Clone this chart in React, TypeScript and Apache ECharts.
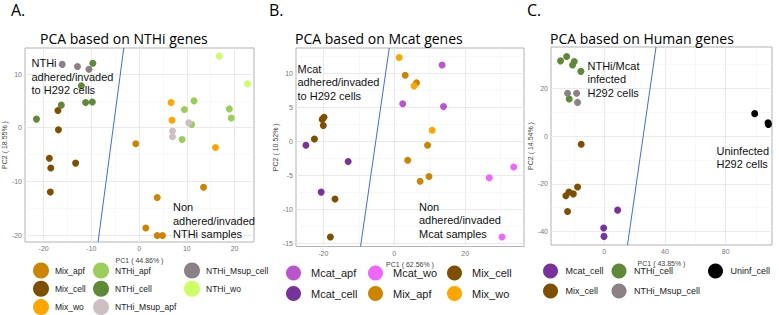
import React, { useEffect, useRef } from "react";
import * as echarts from "echarts";

// ---------- Data ----------
// Panel A: PCA based on NTHi genes
const A_Mix_apf = [[-0.7, -3.0], [3.8, -13.0], [1.4, -18.7], [3.8, -20.1], [4.9, -20.1], [13.5, -11.1]];
const A_Mix_cell = [[-17.0, 3.2], [-16.9, -0.4], [-18.8, -5.7], [-18.5, -7.5], [-18.6, -12.0], [-13.3, -6.6]];
const A_Mix_wo = [[6.7, 4.7], [6.9, 1.4], [16.0, -3.7]];
const A_NTHi_apf = [[11.5, 5.0], [9.5, 3.4], [11.0, 0.6], [9.0, -2.2], [18.9, 3.5], [19.3, 1.8]];
const A_NTHi_cell = [[-9.7, 12.0], [-12.1, 7.8], [-16.3, 4.2], [-11.2, 4.7], [-9.8, 4.8], [-21.5, 1.6]];
const A_NTHi_Msup_apf = [[7.0, -0.6], [7.0, -1.7], [10.4, 0.9]];
const A_NTHi_Msup_cell = [[-16.1, 11.8], [-12.9, 11.4], [-10.5, 10.9]];
const A_NTHi_wo = [[16.8, 13.3], [22.7, 8.2]];
const A_split = [[-3.2, 14.9], [-8.6, -21.3]];

// Panel B: PCA based on Mcat genes
const B_Mcat_apf = [[13.5, 11.2], [2.4, 5.5], [13.9, 5.1]];
const B_Mcat_cell = [[-24.9, -0.6], [-13.0, -3.0], [-20.6, -7.5]];
const B_Mcat_wo = [[26.8, -5.4], [33.7, -3.8], [30.4, -14.1]];
const B_Mix_apf = [[3.1, 9.7], [6.3, 8.6], [9.4, -0.6], [3.8, -2.8], [7.3, -5.9], [9.8, -5.2]];
const B_Mix_cell = [[-19.8, 3.5], [-20.3, 3.2], [-20.0, 2.3], [-22.5, 0.3], [-16.7, -8.5], [-18.0, -14.1]];
const B_Mix_wo = [[1.4, 12.3], [5.6, 8.1], [10.7, 1.6]];
const B_split = [[-1.4, 13.7], [-9.5, -15.5]];

// Panel C: PCA based on Human genes
const C_Mcat_cell = [[8.8, -31.0], [-0.4, -38.5], [-0.2, -42.0]];
const C_Mix_cell = [[-15.2, -3.4], [-17.6, -21.3], [-23.3, -23.4], [-20.4, -24.2], [-25.3, -25.0], [-24.2, -31.6]];
const C_NTHi_cell = [[-28.8, 31.5], [-24.8, 33.3], [-19.8, 31.2], [-20.9, 29.8], [-15.4, 27.1], [-23.1, 15.5]];
const C_NTHi_Msup_cell = [[-24.2, 17.9], [-18.2, 17.9], [-17.6, 14.1]];
const C_Uninf_cell = [[99.1, 9.4], [107.9, 5.6], [108.1, 4.9]];
const C_split = [[34.1, 37.3], [15.3, -45.6]];

// Tick labels / grid breaks
const A_xMajor = [-20, -10, 0, 10, 20];
const A_xMinor = [-15, -5, 5, 15];
const A_yMajor = [-20, -10, 0, 10];
const A_yMinor = [-15, -5, 5];
const B_xMajor = [-20, 0, 20];
const B_xMinor = [-10, 10, 30];
const B_yMajor = [-15, -10, -5, 0, 5, 10];
const B_yMinor = [-12.5, -7.5, -2.5, 2.5, 7.5, 12.5];
const C_xMajor = [0, 40, 80];
const C_xMinor = [-20, 20, 60, 100];
const C_yMajor = [-40, -20, 0, 20];
const C_yMinor = [-30, -10, 10, 30];

const axisNames = {
  A: ["PC1 ( 44.86% )", "PC2 ( 18.55% )"],
  B: ["PC1 ( 62.56% )", "PC2 ( 10.52% )"],
  C: ["PC1 ( 43.85% )", "PC2 ( 14.54% )"],
};

const colors: Record<string, string> = {
  Mix_apf: "#cc8500",
  Mix_cell: "#7f4f00",
  Mix_wo: "#ffa500",
  NTHi_apf: "#9acd5a",
  NTHi_cell: "#5e8a37",
  NTHi_Msup_apf: "#ccc0c3",
  NTHi_Msup_cell: "#8b8083",
  NTHi_wo: "#ccff66",
  Mcat_apf: "#bb55cc",
  Mcat_cell: "#773399",
  Mcat_wo: "#ee66ff",
  Uninf_cell: "#000000",
};

const SANS = "'Liberation Sans', Arial, sans-serif";
const TITLE_FONT = "'Open Sans', 'Noto Sans', sans-serif";

export default function App() {
  const ref = useRef<HTMLDivElement>(null);
  useEffect(() => {
    if (!ref.current) return;
    const chart = echarts.init(ref.current, null, { renderer: "svg" });

    const grids = [
      { left: 21, top: 48, width: 233, height: 194 },
      { left: 296, top: 48, width: 228, height: 198.5 },
      { left: 551, top: 47, width: 221, height: 198 },
    ].map((g) => ({ ...g, show: true, borderColor: "#b3b3b3", borderWidth: 1, backgroundColor: "#fff" }));

    const mkAxis = (i: number, min: number, max: number, ticks: number[], name: string, gap: number) => ({
      gridIndex: i,
      type: "value",
      min,
      max,
      name,
      nameLocation: "middle",
      nameGap: gap,
      nameTextStyle: { fontSize: 7, color: "#444", fontFamily: SANS },
      axisLine: { show: false },
      splitLine: { show: false },
      axisTick: { show: true, customValues: ticks, length: 2, lineStyle: { color: "#b3b3b3" } },
      axisLabel: { customValues: ticks, fontSize: 7, color: "#777", margin: 3, fontFamily: SANS },
    });

    const xAxis = [
      mkAxis(0, -23.9, 24.07, A_xMajor, axisNames.A[0], 11),
      mkAxis(1, -27.7, 36.6, B_xMajor, axisNames.B[0], 6.5),
      mkAxis(2, -35.1, 110.5, C_xMajor, axisNames.C[0], 9),
    ];
    const yAxis = [
      mkAxis(0, -21.3, 14.85, A_yMajor, axisNames.A[1], 10.5),
      mkAxis(1, -15.5, 13.7, B_yMajor, axisNames.B[1], 15),
      mkAxis(2, -45.6, 37.3, C_yMajor, axisNames.C[1], 13.5),
    ];

    const gridSeries = (i: number, xMaj: number[], xMin: number[], yMaj: number[], yMin: number[]) => ({
      type: "scatter",
      name: "grid" + i,
      xAxisIndex: i,
      yAxisIndex: i,
      data: [],
      silent: true,
      z: 1,
      markLine: {
        silent: true,
        z: 1,
        symbol: ["none", "none"],
        label: { show: false },
        animation: false,
        data: [
          ...xMin.map((v) => ({ xAxis: v, lineStyle: { color: "#f3f3f3", width: 0.6, type: "solid" } })),
          ...yMin.map((v) => ({ yAxis: v, lineStyle: { color: "#f3f3f3", width: 0.6, type: "solid" } })),
          ...xMaj.map((v) => ({ xAxis: v, lineStyle: { color: "#e8e8e8", width: 0.9, type: "solid" } })),
          ...yMaj.map((v) => ({ yAxis: v, lineStyle: { color: "#e8e8e8", width: 0.9, type: "solid" } })),
        ],
      },
    });

    const pts = (i: number, name: string, data: number[][]) => ({
      type: "scatter",
      name,
      xAxisIndex: i,
      yAxisIndex: i,
      data,
      symbolSize: 7,
      z: 3,
      itemStyle: { color: colors[name], opacity: 1, borderWidth: 0 },
    });

    const splitLine = (i: number, data: number[][]) => ({
      type: "line",
      name: "split" + i,
      xAxisIndex: i,
      yAxisIndex: i,
      data,
      symbol: "none",
      clip: true,
      z: 4,
      silent: true,
      lineStyle: { color: "#3d6fd6", width: 1 },
    });

    const series = [
      gridSeries(0, A_xMajor, A_xMinor, A_yMajor, A_yMinor),
      gridSeries(1, B_xMajor, B_xMinor, B_yMajor, B_yMinor),
      gridSeries(2, C_xMajor, C_xMinor, C_yMajor, C_yMinor),
      pts(0, "Mix_apf", A_Mix_apf),
      pts(0, "Mix_cell", A_Mix_cell),
      pts(0, "Mix_wo", A_Mix_wo),
      pts(0, "NTHi_apf", A_NTHi_apf),
      pts(0, "NTHi_cell", A_NTHi_cell),
      pts(0, "NTHi_Msup_apf", A_NTHi_Msup_apf),
      pts(0, "NTHi_Msup_cell", A_NTHi_Msup_cell),
      pts(0, "NTHi_wo", A_NTHi_wo),
      splitLine(0, A_split),
      pts(1, "Mcat_apf", B_Mcat_apf),
      pts(1, "Mcat_cell", B_Mcat_cell),
      pts(1, "Mcat_wo", B_Mcat_wo),
      pts(1, "Mix_apf", B_Mix_apf),
      pts(1, "Mix_cell", B_Mix_cell),
      pts(1, "Mix_wo", B_Mix_wo),
      splitLine(1, B_split),
      pts(2, "Mcat_cell", C_Mcat_cell),
      pts(2, "Mix_cell", C_Mix_cell),
      pts(2, "NTHi_cell", C_NTHi_cell),
      pts(2, "NTHi_Msup_cell", C_NTHi_Msup_cell),
      pts(2, "Uninf_cell", C_Uninf_cell),
      splitLine(2, C_split),
    ];

    const mkLegend = (data: string[], left: number, top: number, w: number, h: number, gap: number, fs: number) => ({
      orient: "vertical",
      left,
      top,
      height: 80,
      padding: 0,
      itemWidth: w,
      itemHeight: h,
      itemGap: gap,
      icon: "circle",
      selectedMode: false,
      data,
      textStyle: { fontSize: fs, color: "#1a1a1a", fontFamily: SANS },
    });

    const legend = [
      mkLegend(["Mix_apf", "Mix_cell", "Mix_wo"], 33, 262.5, 18, 16, 2.3, 8.5),
      mkLegend(["NTHi_apf", "NTHi_cell", "NTHi_Msup_apf"], 93, 262.5, 18, 16, 2.3, 8.5),
      mkLegend(["NTHi_Msup_cell", "NTHi_wo"], 184, 262.5, 18, 16, 2.3, 8.5),
      mkLegend(["Mcat_apf", "Mcat_cell"], 286, 265.5, 25, 15, 5.5, 11),
      mkLegend(["Mcat_wo", "Mix_apf"], 368, 265.5, 25, 15, 5.5, 11),
      mkLegend(["Mix_cell", "Mix_wo"], 447, 265.5, 25, 15, 5.5, 11),
      mkLegend(["Mcat_cell", "Mix_cell"], 543, 263.5, 20, 15, 5, 9),
      mkLegend(["NTHi_cell", "NTHi_Msup_cell"], 611.5, 263.5, 20, 15, 5, 9),
      mkLegend(["Uninf_cell"], 708, 263.5, 20, 15, 5, 9),
    ];

    const ttl = (text: string, left: number, top: number, fs: number) => ({
      text,
      left,
      top,
      padding: 0,
      textStyle: { fontSize: fs, fontWeight: "normal", color: "#000", fontFamily: TITLE_FONT },
    });
    const title = [
      ttl("A.", 11, 2, 16),
      ttl("B.", 269, 2, 16),
      ttl("C.", 527, 2, 16),
      ttl("PCA based on NTHi genes", 40, 31, 14),
      ttl("PCA based on Mcat genes", 295, 31, 14),
      ttl("PCA based on Human genes", 550, 31, 14),
    ];

    const note = (text: string, x: number, y: number) => ({
      type: "text",
      x,
      y,
      z: 10,
      silent: true,
      style: { text, fontSize: 11, lineHeight: 13.4, fill: "#111", fontFamily: SANS, align: "left", verticalAlign: "top" },
    });
    const graphic = [
      note("NTHi\nadhered/invaded\nto H292 cells", 31.5, 56.5),
      note("Non\nadhered/invaded\nNTHi samples", 173, 200.5),
      note("Mcat\nadhered/invaded\nto H292 cells", 297.5, 62.3),
      note("Non\nadhered/invaded\nMcat samples", 419, 200),
      note("NTHi/Mcat\ninfected\nH292 cells", 587.5, 59),
      note("Uninfected\nH292 cells", 716.5, 144),
    ];

    chart.setOption({
      animation: false,
      backgroundColor: "#fff",
      title,
      grid: grids,
      xAxis,
      yAxis,
      legend,
      series,
      graphic,
    });
    return () => chart.dispose();
  }, []);
  return <div ref={ref} style={{ position: "fixed", left: 0, top: 0, width: 779, height: 315, background: "#fff" }} />;
}
